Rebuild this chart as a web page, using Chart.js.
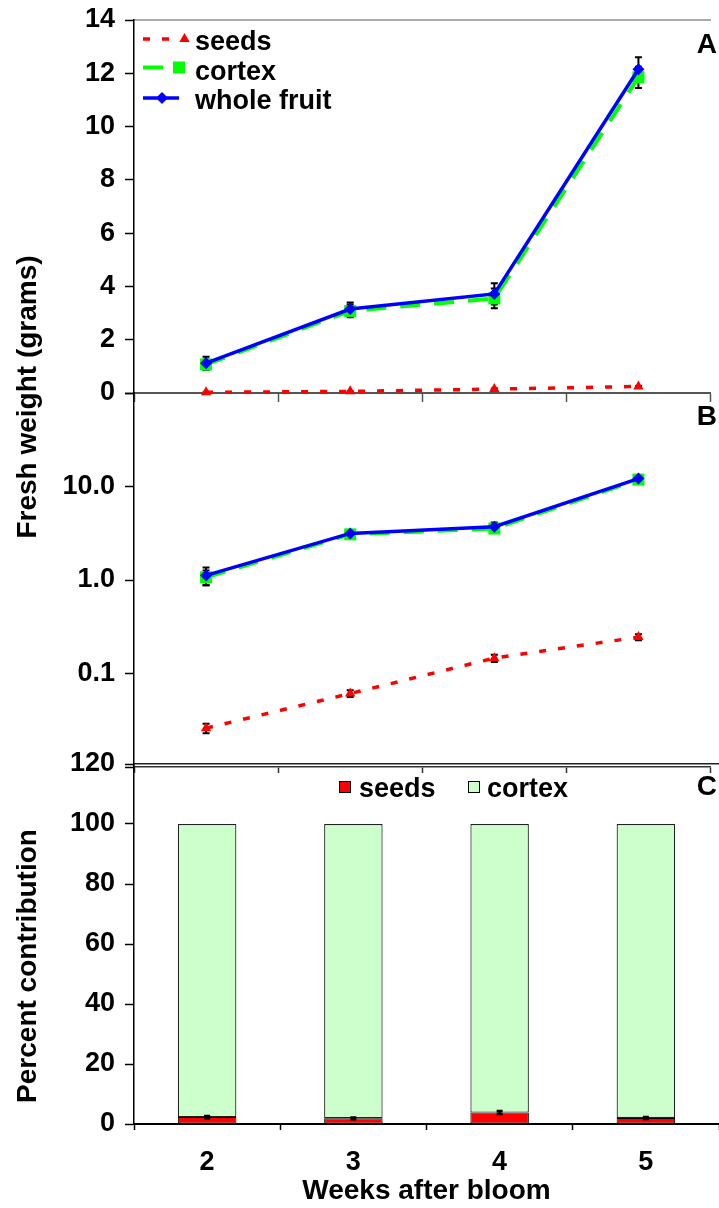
<!DOCTYPE html>
<html><head><meta charset="utf-8">
<script src="https://cdn.jsdelivr.net/npm/chart.js@4.4.1/dist/chart.umd.min.js"></script>
<style>
html,body{margin:0;padding:0;background:#fff;}
body{width:719px;height:1208px;position:relative;overflow:hidden;font-family:"Liberation Sans",Arial,sans-serif;}
.cv{position:absolute;left:0;}
.ytitle{position:absolute;font-weight:bold;font-size:28px;line-height:1;white-space:nowrap;transform:translate(-50%,-50%) rotate(-90deg);color:#000;}
.panel{position:absolute;right:2px;font-weight:bold;font-size:28px;line-height:1;transform:translateY(-50%);color:#000;}
</style></head><body>
<canvas id="cA" class="cv" style="top:0" width="719" height="410"></canvas>
<canvas id="cB" class="cv" style="top:378px" width="719" height="406"></canvas>
<canvas id="cC" class="cv" style="top:740px" width="719" height="468"></canvas>
<div class="ytitle" style="left:27px;top:397px">Fresh weight (grams)</div>
<div class="ytitle" style="left:27px;top:966px">Percent contribution</div>
<div class="panel" style="top:44px">A</div>
<div class="panel" style="top:416px">B</div>
<div class="panel" style="top:786px">C</div>
<script>
// ---- data ----
const weeks = ['2', '3', '4', '5'];
const seedsFW = [0.026, 0.061, 0.146, 0.245];
const cortexFW = [1.07, 3.08, 3.55, 11.85];
const wholeFW = [1.12, 3.15, 3.72, 12.15];
const seedsErr = [0.003, 0.005, 0.013, 0.018];
const cortexErr = [0.19, 0.24, 0.37, 0.40];
const wholeErr = [0.24, 0.25, 0.40, 0.45];
const seedsPct = [2.3, 1.9, 3.8, 2.0];
const cortexPct = [97.7, 98.1, 96.2, 98.0];
const seedsPctErr = [0.4, 0.3, 0.5, 0.3];
const aTickStep = 2;
const bTickValues = [0.01, 0.1, 1, 10, 100];
const bTickLabels = ['', '0.1', '1.0', '10.0', ''];
const cTickStep = 20;

Chart.defaults.font = {family: "'Liberation Sans', Arial, sans-serif", size: 27, weight: 'bold', lineHeight: 1.2};
Chart.defaults.color = '#000';

const errorBarPlugin = {
  id: 'errorBars',
  _draw(chart, opts) {
    const ctx = chart.ctx;
    chart.data.datasets.forEach((ds, di) => {
      if (!ds.errorBars) return;
      const meta = chart.getDatasetMeta(di);
      const ys = chart.scales[meta.yAxisID];
      ctx.save();
      ctx.strokeStyle = '#000';
      ctx.lineWidth = opts.lineWidth || 2;
      const hw = opts.cap || 3.5;
      meta.data.forEach((el, i) => {
        const v = ds.data[i], e = ds.errorBars[i];
        const x = el.x;
        const t = ys.getPixelForValue(v + e), b = ys.getPixelForValue(v - e);
        ctx.beginPath();
        ctx.moveTo(x, t); ctx.lineTo(x, b);
        ctx.moveTo(x - hw, t); ctx.lineTo(x + hw, t);
        ctx.moveTo(x - hw, b); ctx.lineTo(x + hw, b);
        ctx.stroke();
      });
      ctx.restore();
    });
  },
  beforeDatasetsDraw(chart, args, opts) { if (opts.layer !== 'after') this._draw(chart, opts); },
  afterDatasetsDraw(chart, args, opts) { if (opts.layer === 'after') this._draw(chart, opts); }
};

const lineLegendPlugin = {
  id: 'lineLegend',
  afterDraw(chart, args, opts) {
    if (!opts.items) return;
    const ctx = chart.ctx;
    opts.items.forEach(item => {
      const ds = chart.data.datasets[item.dataset];
      ctx.save();
      ctx.strokeStyle = ds.borderColor;
      ctx.lineWidth = ds.borderWidth;
      ctx.setLineDash(ds.borderDash || []);
      ctx.beginPath(); ctx.moveTo(item.x0, item.y); ctx.lineTo(item.x1, item.y); ctx.stroke();
      ctx.setLineDash([]);
      ctx.fillStyle = ds.backgroundColor;
      ctx.strokeStyle = ds.borderColor;
      Chart.helpers.drawPoint(ctx, {pointStyle: ds.pointStyle, radius: ds.pointRadius, borderWidth: 0, rotation: 0}, item.mx, item.y);
      ctx.fillStyle = '#000';
      ctx.font = opts.font;
      ctx.textBaseline = 'alphabetic';
      ctx.textAlign = 'left';
      ctx.fillText(ds.label, opts.textX, item.baseline);
      ctx.restore();
    });
  }
};

const boxLegendPlugin = {
  id: 'boxLegend',
  afterDraw(chart, args, opts) {
    if (!opts.items) return;
    const ctx = chart.ctx;
    opts.items.forEach(item => {
      const ds = chart.data.datasets[item.dataset];
      ctx.save();
      ctx.fillStyle = ds.backgroundColor;
      ctx.fillRect(item.bx, item.by, opts.box, opts.box);
      ctx.strokeStyle = '#000'; ctx.lineWidth = 1;
      ctx.strokeRect(item.bx + 0.5, item.by + 0.5, opts.box - 1, opts.box - 1);
      ctx.fillStyle = '#000';
      ctx.font = opts.font;
      ctx.textBaseline = 'alphabetic';
      ctx.fillText(ds.label, item.tx, item.baseline);
      ctx.restore();
    });
  }
};

function lineDatasets() {
  return [
    {label: 'seeds', data: seedsFW, errorBars: seedsErr, borderColor: '#ff0000', backgroundColor: '#ff0000',
     borderWidth: 3.5, borderDash: [7, 12], pointStyle: 'triangle', pointRadius: 6, pointBorderWidth: 0, order: 2, clip: false},
    {label: 'cortex', data: cortexFW, errorBars: cortexErr, borderColor: '#00ff00', backgroundColor: '#00ff00',
     borderWidth: 4, borderDash: [20, 14], pointStyle: 'rect', pointRadius: 8.5, pointBorderWidth: 0, order: 1, clip: false},
    {label: 'whole fruit', data: wholeFW, errorBars: wholeErr, borderColor: '#0000ff', backgroundColor: '#0000ff',
     borderWidth: 3.5, pointStyle: 'rectRot', pointRadius: 6, pointBorderWidth: 0, order: 0, clip: false}
  ];
}

const zeroPad = s => { s.paddingTop = 0; s.paddingBottom = 0; s.paddingLeft = 0; s.paddingRight = 0; };
const yWidth = s => { s.width = 134; zeroPad(s); };
const xHeight = h => (s => { s.height = h; zeroPad(s); });
const noPad = {top: 0, left: 0, right: 0, bottom: 0};

// ---- Panel A ----
new Chart(document.getElementById('cA'), {
  type: 'line',
  data: {labels: weeks, datasets: lineDatasets()},
  options: {
    responsive: false, animation: false, events: [],
    layout: {padding: noPad},
    plugins: {
      legend: {display: false}, tooltip: {enabled: false},
      errorBars: {layer: 'before', cap: 3.5, lineWidth: 2},
      lineLegend: {
        font: "bold 27px 'Liberation Sans', Arial, sans-serif", textX: 195,
        items: [
          {dataset: 0, x0: 143, x1: 176, mx: 184.5, y: 39, baseline: 50},
          {dataset: 1, x0: 143, x1: 166, mx: 179, y: 67.5, baseline: 79.5},
          {dataset: 2, x0: 143, x1: 179, mx: 162, y: 98, baseline: 109}
        ]
      }
    },
    scales: {
      x: {type: 'category', offset: true,
          grid: {display: true, offset: true, drawOnChartArea: false, drawTicks: true, tickLength: 9, tickColor: '#555', tickWidth: 1.5},
          border: {color: '#555', width: 2}, ticks: {display: false}, afterFit: xHeight(17)},
      xTop: {type: 'category', position: 'top', offset: true,
          grid: {display: false}, border: {color: '#aaa', width: 2}, ticks: {display: false}, afterFit: xHeight(20)},
      y: {min: 0, max: 14, ticks: {stepSize: aTickStep, padding: 10},
          grid: {drawOnChartArea: false, tickLength: 9, tickColor: '#000', tickWidth: 1.5},
          border: {color: '#000', width: 1.5}, afterFit: yWidth}
    }
  },
  plugins: [errorBarPlugin, lineLegendPlugin]
});

// ---- Panel B ----
new Chart(document.getElementById('cB'), {
  type: 'line',
  data: {labels: weeks, datasets: lineDatasets()},
  options: {
    responsive: false, animation: false, events: [],
    layout: {padding: noPad},
    plugins: {legend: {display: false}, tooltip: {enabled: false}, errorBars: {layer: 'before', cap: 3.5, lineWidth: 2}},
    scales: {
      x: {type: 'category', offset: true,
          grid: {display: true, offset: true, drawOnChartArea: false, drawTicks: true, tickLength: 6, tickColor: '#333', tickWidth: 1.5},
          border: {color: '#333', width: 1.5}, ticks: {display: false}, afterFit: xHeight(17)},
      xTop: {type: 'category', position: 'top', offset: true,
          grid: {display: false}, border: {display: false}, ticks: {display: false}, afterFit: xHeight(15)},
      y: {type: 'logarithmic', min: 0.01, max: 100,
          afterBuildTicks: s => { s.ticks = bTickValues.map(v => ({value: v, major: true})); },
          ticks: {autoSkip: false, padding: 10, callback: (v, i) => bTickLabels[i]},
          grid: {drawOnChartArea: false, tickLength: 9, tickColor: '#000', tickWidth: 1.5},
          border: {color: '#000', width: 1.5}, afterFit: yWidth}
    }
  },
  plugins: [errorBarPlugin]
});

// ---- Panel C ----
new Chart(document.getElementById('cC'), {
  type: 'bar',
  data: {labels: weeks, datasets: [
    {label: 'seeds', data: seedsPct, errorBars: seedsPctErr, backgroundColor: '#ff0000', borderColor: '#000',
     borderWidth: 1, borderSkipped: false, barPercentage: 0.8, categoryPercentage: 0.5},
    {label: 'cortex', data: cortexPct, backgroundColor: '#ccffcc', borderColor: '#222',
     borderWidth: 1.2, borderSkipped: false, barPercentage: 0.8, categoryPercentage: 0.5}
  ]},
  options: {
    responsive: false, animation: false, events: [],
    layout: {padding: noPad},
    plugins: {
      legend: {display: false}, tooltip: {enabled: false},
      errorBars: {layer: 'after', cap: 3, lineWidth: 2.5},
      boxLegend: {
        font: "bold 27px 'Liberation Sans', Arial, sans-serif", box: 12,
        items: [
          {dataset: 0, bx: 339, by: 41, tx: 359, baseline: 57},
          {dataset: 1, bx: 468, by: 41, tx: 487, baseline: 57}
        ]
      }
    },
    scales: {
      x: {type: 'category', stacked: true, offset: true,
          grid: {display: true, offset: true, drawOnChartArea: false, drawTicks: true, tickLength: 6, tickColor: '#000', tickWidth: 1.5},
          border: {color: '#000', width: 2},
          ticks: {padding: 16},
          title: {display: true, text: 'Weeks after bloom', font: {size: 28, weight: 'bold'}, padding: {top: 0, bottom: 0}},
          afterFit: xHeight(84)},
      xTop: {type: 'category', position: 'top', offset: true,
          grid: {display: false}, border: {color: '#222', width: 1.5}, ticks: {display: false}, afterFit: xHeight(24)},
      y: {stacked: true, min: 0, max: 120, ticks: {stepSize: cTickStep, padding: 10},
          grid: {drawOnChartArea: false, tickLength: 9, tickColor: '#000', tickWidth: 1.5},
          border: {color: '#000', width: 1.5}, afterFit: yWidth}
    }
  },
  plugins: [errorBarPlugin, boxLegendPlugin]
});
</script>
</body></html>
